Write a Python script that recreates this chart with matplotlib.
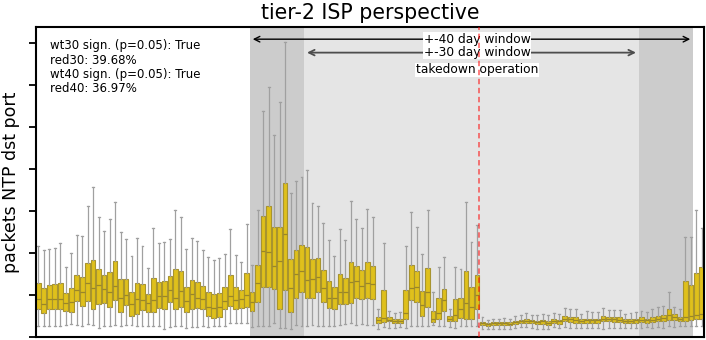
import matplotlib
matplotlib.use("Agg")
import matplotlib.pyplot as plt

# daily box stats (units = y tick steps), one entry per day
q1 = [0.66, 0.56, 0.66, 0.66, 0.66, 0.63, 0.60, 0.86, 0.73, 0.86,
      0.66, 0.79, 0.82, 0.71, 0.88, 0.60, 0.75, 0.51, 0.55, 0.64,
      0.60, 0.60, 0.70, 0.66, 0.84, 0.66, 0.72, 0.59, 0.66, 0.68,
      0.66, 0.50, 0.45, 0.48, 0.66, 0.74, 0.67, 0.70, 0.72, 0.63,
      0.83, 1.20, 1.20, 1.15, 0.67, 1.13, 0.60, 0.94, 1.08, 0.94,
      0.94, 1.06, 0.84, 0.68, 0.67, 0.79, 0.79, 0.81, 0.94, 0.90,
      0.94, 0.90, 0.33, 0.35, 0.37, 0.33, 0.33, 0.42, 0.88, 0.83,
      0.51, 0.72, 0.36, 0.42, 0.63, 0.37, 0.38, 0.45, 0.44, 0.44,
      0.66, 0.29, 0.27, 0.28, 0.28, 0.28, 0.28, 0.31, 0.33, 0.33,
      0.33, 0.30, 0.31, 0.28, 0.33, 0.30, 0.37, 0.36, 0.34, 0.33,
      0.33, 0.34, 0.34, 0.37, 0.37, 0.36, 0.36, 0.33, 0.33, 0.34,
      0.36, 0.34, 0.36, 0.38, 0.39, 0.40, 0.40, 0.37, 0.37, 0.40,
      0.43, 0.43]
med = [0.90, 0.78, 0.90, 0.90, 0.90, 0.80, 0.84, 1.11, 1.06, 1.28,
       1.17, 1.23, 1.14, 1.06, 1.21, 0.94, 0.99, 0.78, 0.90, 0.87,
       0.80, 0.88, 0.98, 0.98, 1.12, 0.94, 1.09, 0.86, 1.02, 0.92,
       0.90, 0.71, 0.69, 0.72, 0.86, 0.98, 0.88, 0.90, 0.99, 0.83,
       1.28, 2.05, 2.02, 1.68, 1.81, 2.45, 1.16, 1.49, 1.56, 1.35,
       1.38, 1.44, 1.17, 0.94, 0.92, 1.06, 1.06, 1.31, 1.33, 1.21,
       1.28, 1.25, 0.40, 0.46, 0.41, 0.39, 0.38, 0.58, 1.16, 1.18,
       0.76, 1.06, 0.44, 0.58, 0.88, 0.44, 0.53, 0.67, 0.82, 0.71,
       0.99, 0.33, 0.30, 0.33, 0.33, 0.33, 0.32, 0.36, 0.37, 0.38,
       0.37, 0.35, 0.37, 0.34, 0.38, 0.37, 0.43, 0.42, 0.40, 0.38,
       0.40, 0.40, 0.40, 0.43, 0.42, 0.42, 0.41, 0.37, 0.37, 0.40,
       0.41, 0.40, 0.41, 0.44, 0.46, 0.52, 0.48, 0.42, 0.48, 0.51,
       0.52, 0.54]
q3 = [1.28, 1.17, 1.23, 1.25, 1.29, 1.04, 1.17, 1.48, 1.43, 1.76,
      1.83, 1.62, 1.48, 1.55, 1.81, 1.38, 1.38, 1.08, 1.28, 1.26,
      1.02, 1.40, 1.31, 1.33, 1.45, 1.61, 1.57, 1.19, 1.35, 1.32,
      1.21, 1.06, 1.02, 1.04, 1.18, 1.47, 1.18, 1.13, 1.52, 1.06,
      1.71, 2.88, 3.11, 2.63, 2.63, 3.67, 1.85, 2.06, 2.18, 2.15,
      1.85, 1.89, 1.60, 1.34, 1.18, 1.51, 1.40, 1.78, 1.68, 1.59,
      1.78, 1.68, 0.47, 1.12, 0.47, 0.43, 0.44, 1.12, 1.71, 1.56,
      1.09, 1.65, 0.63, 0.92, 1.14, 0.49, 0.90, 0.94, 1.56, 1.18,
      1.47, 0.36, 0.33, 0.35, 0.36, 0.36, 0.36, 0.39, 0.41, 0.43,
      0.41, 0.39, 0.40, 0.38, 0.42, 0.40, 0.50, 0.47, 0.47, 0.42,
      0.44, 0.44, 0.44, 0.50, 0.47, 0.47, 0.47, 0.42, 0.42, 0.44,
      0.47, 0.44, 0.47, 0.50, 0.52, 0.66, 0.54, 0.47, 1.33, 1.23,
      1.52, 1.67]
whislo = [0.26, 0.25, 0.26, 0.26, 0.25, 0.28, 0.30, 0.28, 0.26, 0.30,
          0.29, 0.21, 0.25, 0.26, 0.28, 0.26, 0.29, 0.28, 0.25, 0.26,
          0.25, 0.25, 0.26, 0.18, 0.23, 0.25, 0.26, 0.22, 0.23, 0.23,
          0.25, 0.23, 0.25, 0.25, 0.25, 0.34, 0.33, 0.33, 0.33, 0.23,
          0.25, 0.25, 0.25, 0.33, 0.21, 0.22, 0.19, 0.28, 0.25, 0.26,
          0.28, 0.26, 0.25, 0.25, 0.25, 0.28, 0.30, 0.33, 0.28, 0.30,
          0.29, 0.28, 0.18, 0.23, 0.21, 0.21, 0.23, 0.21, 0.26, 0.25,
          0.25, 0.25, 0.28, 0.25, 0.27, 0.23, 0.21, 0.26, 0.25, 0.25,
          0.25, 0.19, 0.18, 0.19, 0.19, 0.18, 0.19, 0.21, 0.23, 0.23,
          0.21, 0.19, 0.19, 0.19, 0.23, 0.22, 0.23, 0.21, 0.21, 0.22,
          0.22, 0.22, 0.21, 0.19, 0.21, 0.21, 0.21, 0.21, 0.21, 0.21,
          0.21, 0.23, 0.21, 0.23, 0.21, 0.25, 0.23, 0.25, 0.25, 0.25,
          0.25, 0.25]
whishi = [2.17, 2.07, 2.10, 2.12, 2.24, 1.67, 2.00, 2.42, 2.40, 3.12,
          3.58, 2.86, 2.52, 2.81, 3.21, 2.51, 2.33, 1.94, 2.36, 2.17,
          1.64, 2.59, 2.23, 2.25, 2.33, 3.02, 2.85, 2.09, 2.35, 2.29,
          2.06, 1.90, 1.83, 1.87, 1.97, 2.56, 1.95, 1.78, 2.69, 1.71,
          3.02, 5.37, 5.94, 4.80, 5.60, 7.03, 3.44, 3.71, 3.81, 3.97,
          3.18, 3.13, 2.71, 2.30, 1.94, 2.56, 2.30, 3.23, 2.81, 2.60,
          3.04, 2.85, 0.66, 2.24, 0.63, 0.58, 0.59, 2.16, 2.97, 2.62,
          1.97, 3.02, 1.06, 1.66, 1.91, 0.66, 1.67, 1.63, 3.21, 2.26,
          2.66, 0.48, 0.40, 0.44, 0.44, 0.46, 0.44, 0.50, 0.53, 0.56,
          0.53, 0.53, 0.55, 0.52, 0.56, 0.55, 0.68, 0.67, 0.66, 0.55,
          0.61, 0.60, 0.59, 0.68, 0.64, 0.64, 0.64, 0.55, 0.56, 0.59,
          0.63, 0.60, 0.66, 0.72, 0.74, 1.06, 0.72, 0.66, 2.37, 2.37,
          3.02, 2.59]

days = list(range(len(med)))

# window limits in day index
win40 = (38.6, 119.4)
win30 = (48.5, 109.5)
takedown = 80.4

stats_text = ("wt30 sign. (p=0.05): True\n"
              "red30: 39.68%\n"
              "wt40 sign. (p=0.05): True\n"
              "red40: 36.97%")

stats = []
for d in days:
    stats.append(dict(med=med[d], q1=q1[d], q3=q3[d],
                      whislo=whislo[d], whishi=whishi[d], fliers=[]))

fig = plt.figure(figsize=(7.06, 3.40), dpi=100)
ax = fig.add_axes([36 / 706, 3 / 340, 668 / 706, 310 / 340])

ax.axvspan(win40[0], win40[1], color="#cccccc", lw=0, zorder=0)
ax.axvspan(win30[0], win30[1], color="#e5e5e5", lw=0, zorder=0)

ax.bxp(stats, positions=days, widths=0.85, patch_artist=True,
       showfliers=False, capwidths=0.35,
       boxprops=dict(facecolor="#dfc01c", edgecolor="#a8942e", lw=0.8),
       medianprops=dict(color="#9a8628", lw=0.9),
       whiskerprops=dict(color="#a0a0a0", lw=0.9),
       capprops=dict(color="#a0a0a0", lw=0.9))

ax.axvline(takedown, color="red", ls=(0, (3, 2)), lw=1.3, alpha=0.55, zorder=5)

ax.annotate("", xy=(win40[1], 7.09), xytext=(win40[0], 7.09),
            arrowprops=dict(arrowstyle="<->", color="black", lw=1))
ax.annotate("", xy=(win30[1], 6.77), xytext=(win30[0], 6.77),
            arrowprops=dict(arrowstyle="<->", color="0.3", lw=1.3))
box = dict(facecolor="white", edgecolor="none", pad=0.3)
ax.text(80, 7.09, "+-40 day window", ha="center", va="center", fontsize=8.8, bbox=box)
ax.text(80, 6.77, "+-30 day window", ha="center", va="center", fontsize=8.8, bbox=box)
ax.text(80, 6.36, "takedown operation", ha="center", va="center", fontsize=8.8, bbox=box)

ax.text(0.021, 0.96, stats_text, transform=ax.transAxes, ha="left", va="top",
        fontsize=8.5, linespacing=1.13)

ax.set_xlim(-0.42, 121.4)
ax.set_ylim(0, 7.38)
ax.set_xticks([])
ax.set_yticks(range(8))
ax.set_yticklabels([])
ax.tick_params(axis="y", direction="out", length=5, width=1.3)
for s in ax.spines.values():
    s.set_linewidth(1.5)

ax.set_title("tier-2 ISP perspective", fontsize=14.8)
ax.set_ylabel("packets NTP dst port", fontsize=12.5, labelpad=3)

fig.savefig("out.png", dpi=100)
